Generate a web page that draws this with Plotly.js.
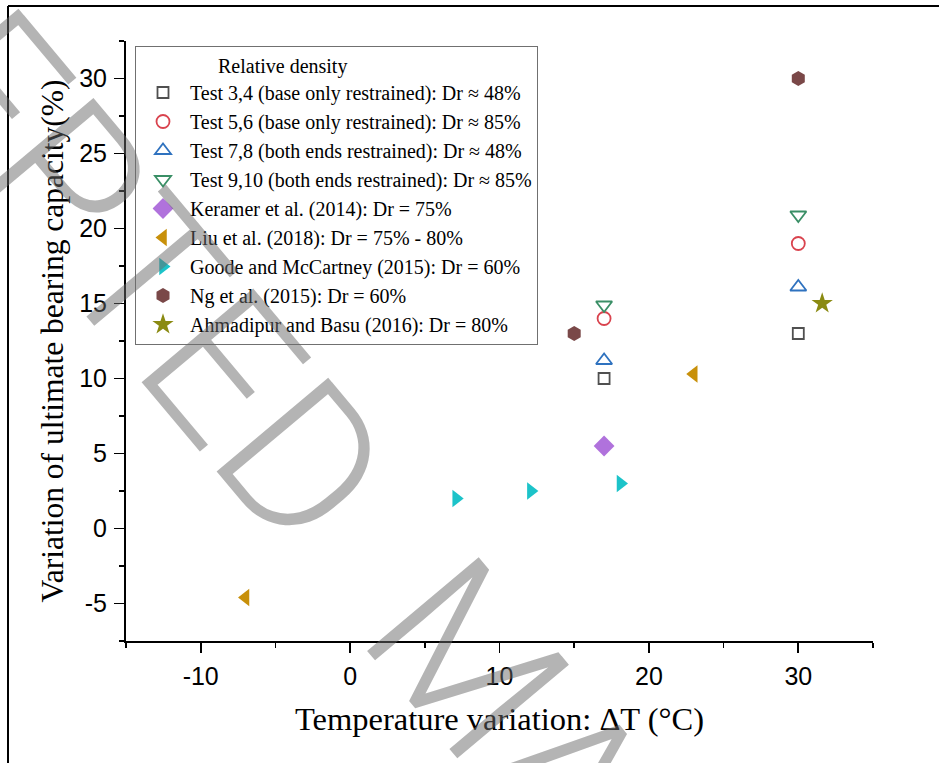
<!DOCTYPE html>
<html>
<head>
<meta charset="utf-8">
<script src="https://cdn.plot.ly/plotly-3.0.1.min.js"></script>
<style>
  html, body { margin: 0; padding: 0; background: #ffffff; }
  #chart { width: 939px; height: 763px; }
</style>
</head>
<body>
<div id="chart"></div>
<script>
// ---------------- data ----------------
const seriesNames = [
  "Test 3,4 (base only restrained): Dr \u2248 48%",
  "Test 5,6 (base only restrained): Dr \u2248 85%",
  "Test 7,8 (both ends restrained): Dr \u2248 48%",
  "Test 9,10 (both ends restrained): Dr \u2248 85%",
  "Keramer et al. (2014): Dr = 75%",
  "Liu et al. (2018): Dr = 75% - 80%",
  "Goode and McCartney (2015): Dr = 60%",
  "Ng et al. (2015): Dr = 60%",
  "Ahmadipur and Basu (2016): Dr = 80%"
];

const test34X = [17, 30];
const test34Y = [10, 13];
const test56X = [17, 30];
const test56Y = [14, 19];
const test78X = [17, 30];
const test78Y = [11.2, 16.1];
const test910X = [17, 30];
const test910Y = [14.9, 20.9];
const keramerX = [17];
const keramerY = [5.5];
const liuX = [-7, 23];
const liuY = [-4.6, 10.3];
const goodeX = [7.1, 12.1, 18.1];
const goodeY = [2, 2.5, 3];
const ngX = [15, 30];
const ngY = [13, 30];
const ahmadipurX = [31.6];
const ahmadipurY = [15];

const xTickVals = [-10, 0, 10, 20, 30];
const xTickText = ["-10", "0", "10", "20", "30"];
const yTickVals = [-5, 0, 5, 10, 15, 20, 25, 30];
const yTickText = ["-5", "0", "5", "10", "15", "20", "25", "30"];

const xTitle = "Temperature variation: \u0394T (\u00b0C)";
const yTitle = "Variation of ultimate bearing capacity(%)";
const legendTitle = "Relative density";
const watermark = "ACCEPTED \u00a0MANUSCRIPT";

// ---------------- layout geometry ----------------
const W = 939, H = 763;
const M = { l: 126, r: 66, t: 41, b: 122 };
const PW = W - M.l - M.r, PH = H - M.t - M.b;
const px2x = p => (p - M.l) / PW;      // pixel -> paper x
const py2y = p => (H - M.b - p) / PH;  // pixel -> paper y

const serif = "Liberation Serif, Times New Roman, serif";
const sans = "Liberation Sans, Arial, sans-serif";

function sc(name, x, y, symbol, color, size, open) {
  const m = { symbol: symbol, size: size, color: color };
  if (open) { m.line = { color: color, width: 1.8 }; }
  else { m.line = { width: 0 }; }
  return { type: "scatter", mode: "markers", name: name, x: x, y: y, marker: m, cliponaxis: false };
}

const traces = [
  sc(seriesNames[0], test34X, test34Y, "square-open", "#505050", 11, true),
  sc(seriesNames[1], test56X, test56Y, "circle-open", "#d9434e", 13, true),
  sc(seriesNames[2], test78X, test78Y, "triangle-up-open", "#2f72bf", 14, true),
  sc(seriesNames[3], test910X, test910Y, "triangle-down-open", "#3a8f66", 14, true),
  sc(seriesNames[4], keramerX, keramerY, "diamond", "#b072dc", 16, false),
  sc(seriesNames[5], liuX, liuY, "triangle-left", "#c8900a", 15, false),
  sc(seriesNames[6], goodeX, goodeY, "triangle-right", "#1cc3c9", 15, false),
  sc(seriesNames[7], ngX, ngY, "hexagon", "#7a4848", 15, false),
  sc(seriesNames[8], ahmadipurX, ahmadipurY, "star", "#8a8a12", 16, false)
];

const axisCommon = {
  showline: true, linecolor: "#000", linewidth: 2,
  showgrid: false, zeroline: false,
  tickcolor: "#000", tickwidth: 1.6
};

const layout = {
  width: W, height: H,
  margin: M,
  paper_bgcolor: "#ffffff",
  plot_bgcolor: "#ffffff",
  showlegend: true,
  xaxis: Object.assign({}, axisCommon, {
    range: [-15, 35], side: "bottom",
    tickmode: "array", tickvals: xTickVals, ticktext: xTickText,
    ticks: "outside", ticklen: 10,
    minor: { dtick: 5, tick0: -15, ticks: "outside", ticklen: 5, tickcolor: "#000", tickwidth: 1.6 },
    tickfont: { family: sans, size: 25, color: "#000" },
    ticklabelstandoff: 2,
    title: { text: xTitle, font: { family: serif, size: 32.5, color: "#000" }, standoff: 18 },
    automargin: false
  }),
  yaxis: Object.assign({}, axisCommon, {
    range: [-7.5, 32.5], side: "left",
    tickmode: "array", tickvals: yTickVals, ticktext: yTickText,
    ticks: "outside", ticklen: 10,
    minor: { dtick: 2.5, tick0: -7.5, ticks: "outside", ticklen: 5, tickcolor: "#000", tickwidth: 1.6 },
    tickfont: { family: sans, size: 25, color: "#000" },
    ticklabelstandoff: 2,
    title: { text: yTitle, font: { family: serif, size: 31.5, color: "#000" }, standoff: 6 },
    automargin: false
  }),
  xaxis2: Object.assign({}, axisCommon, {
    range: [-15, 35], overlaying: "x", side: "top", anchor: "y",
    tickmode: "array", tickvals: xTickVals, showticklabels: false,
    ticks: "inside", ticklen: 10,
    minor: { dtick: 5, tick0: -15, ticks: "inside", ticklen: 5, tickcolor: "#000", tickwidth: 1.6 }
  }),
  yaxis2: Object.assign({}, axisCommon, {
    range: [-7.5, 32.5], overlaying: "y", side: "right", anchor: "x",
    tickmode: "array", tickvals: yTickVals, showticklabels: false,
    ticks: "inside", ticklen: 10,
    minor: { dtick: 2.5, tick0: -7.5, ticks: "inside", ticklen: 5, tickcolor: "#000", tickwidth: 1.6 }
  }),
  legend: {
    x: px2x(135), y: py2y(46), xanchor: "left", yanchor: "top",
    bgcolor: "#ffffff", bordercolor: "#707070", borderwidth: 1,
    font: { family: serif, size: 20, color: "#000" },
    itemwidth: 44,
    tracegroupgap: 0,
    title: { text: "\u00a0".repeat(16) + legendTitle, side: "top", font: { family: serif, size: 20, color: "#000" } }
  },
  shapes: [
    { type: "line", xref: "paper", yref: "paper", x0: px2x(8), x1: px2x(8), y0: py2y(6), y1: py2y(780), line: { color: "#000", width: 2 } },
    { type: "line", xref: "paper", yref: "paper", x0: px2x(8), x1: px2x(960), y0: py2y(6), y1: py2y(6), line: { color: "#000", width: 2 } }
  ],
  annotations: [
    {
      xref: "paper", yref: "paper", x: px2x(462), y: py2y(655),
      xanchor: "center", yanchor: "middle", showarrow: false,
      text: watermark, textangle: 50,
      font: { family: "Roboto, Liberation Sans, sans-serif", size: 205, color: "rgba(105,105,105,0.5)", weight: 300 }
    }
  ]
};

Plotly.newPlot("chart", traces, layout, { displayModeBar: false, staticPlot: true });
</script>
</body>
</html>
